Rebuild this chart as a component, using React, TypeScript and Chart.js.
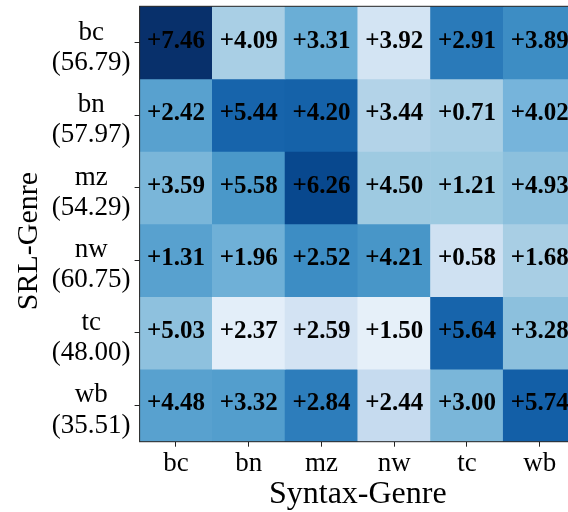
import React, { useEffect, useRef } from "react";
import { Chart, registerables } from "chart.js";

Chart.register(...registerables);

// Column categories (syntax genre) and row categories (SRL genre)
const syntaxGenres = ["bc", "bn", "mz", "nw", "tc", "wb"];
const srlGenres = ["bc", "bn", "mz", "nw", "tc", "wb"];
// Baseline score shown under each SRL genre label
const srlBaseline = [56.79, 57.97, 54.29, 60.75, 48.0, 35.51];

// Gain per (SRL genre row, syntax genre column)
const gainBc = [7.46, 4.09, 3.31, 3.92, 2.91, 3.89];
const gainBn = [2.42, 5.44, 4.2, 3.44, 0.71, 4.02];
const gainMz = [3.59, 5.58, 6.26, 4.5, 1.21, 4.93];
const gainNw = [1.31, 1.96, 2.52, 4.21, 0.58, 1.68];
const gainTc = [5.03, 2.37, 2.59, 1.5, 5.64, 3.28];
const gainWb = [4.48, 3.32, 2.84, 2.44, 3.0, 5.74];
const gains = [gainBc, gainBn, gainMz, gainNw, gainTc, gainWb];

// Cell shading (Blues palette)
const cellColors = [
  ["#08306b", "#a9cfe5", "#6aaed6", "#d3e4f3", "#2a7ab9", "#3d8dc4"],
  ["#58a1cf", "#1764ab", "#1562a9", "#b3d3e8", "#a9cfe5", "#76b4db"],
  ["#7ab6d9", "#4a98c9", "#08488e", "#9ecae1", "#9dcae1", "#8cc0dd"],
  ["#58a1cf", "#6fb0d7", "#3d8dc4", "#4896c8", "#cfe1f2", "#a8cee4"],
  ["#8ec1de", "#e3eef9", "#d3e3f3", "#e6f0f9", "#1764ab", "#8cc0dd"],
  ["#58a1cf", "#539ecd", "#2d7dbb", "#c6dbef", "#7ab6d9", "#135fa7"],
];

const SERIF = "'Liberation Serif', 'Times New Roman', serif";

const cellLabels = {
  id: "cellLabels",
  afterDatasetsDraw(chart: any) {
    const { ctx, scales } = chart;
    const xs = scales.x;
    const ys = scales.y;
    ctx.save();
    ctx.fillStyle = "#000";
    ctx.font = `bold 25px ${SERIF}`;
    ctx.textAlign = "center";
    ctx.textBaseline = "middle";
    gains.forEach((row, r) => {
      row.forEach((v, c) => {
        const x = xs.getPixelForValue(c);
        const y = ys.getPixelForValue(r + 0.5);
        ctx.fillText(`+${v.toFixed(2)}`, x, y - 1.5);
      });
    });
    ctx.restore();
  },
};

const frameAndTitle = {
  id: "frameAndTitle",
  afterDraw(chart: any) {
    const { ctx, chartArea } = chart;
    ctx.save();
    ctx.strokeStyle = "#222";
    ctx.lineWidth = 1;
    ctx.strokeRect(
      chartArea.left,
      chartArea.top,
      chartArea.right - chartArea.left,
      chartArea.bottom - chartArea.top
    );
    // vertical axis title
    ctx.translate(29, 241);
    ctx.rotate(-Math.PI / 2);
    ctx.fillStyle = "#000";
    ctx.font = `30px ${SERIF}`;
    ctx.textAlign = "center";
    ctx.textBaseline = "middle";
    ctx.fillText("SRL-Genre", 0, 0);
    ctx.restore();
  },
};

export default function App() {
  const ref = useRef<HTMLCanvasElement | null>(null);

  useEffect(() => {
    if (!ref.current) return;
    const datasets = srlGenres.map((g, r) => ({
      label: g,
      data: syntaxGenres.map(() => [r, r + 1]),
      backgroundColor: cellColors[r],
      borderWidth: 0,
      barPercentage: 1,
      categoryPercentage: 1,
      grouped: false,
    }));

    const chart = new Chart(ref.current, {
      type: "bar",
      data: { labels: syntaxGenres, datasets: datasets as any },
      options: {
        animation: false,
        responsive: false,
        layout: { padding: { left: 0, top: 6.3, right: 6, bottom: 0 } },
        plugins: { legend: { display: false }, tooltip: { enabled: false } },
        scales: {
          x: {
            type: "category",
            grid: {
              display: true,
              drawOnChartArea: false,
              drawTicks: true,
              tickLength: 5,
              offset: false,
              color: "#222",
            },
            border: { display: false },
            ticks: {
              color: "#000",
              padding: 1,
              font: { family: SERIF, size: 27 },
              maxRotation: 0,
            },
            title: {
              display: true,
              text: "Syntax-Genre",
              color: "#000",
              font: { family: SERIF, size: 32, lineHeight: 1 },
              padding: { top: 0, bottom: 1 },
            },
            afterFit: (s: any) => {
              s.height = 70.3;
              s.paddingLeft = 0;
              s.paddingRight = 0;
            },
          },
          y: {
            type: "linear",
            min: 0,
            max: 6,
            reverse: true,
            grid: {
              display: true,
              drawOnChartArea: false,
              drawTicks: true,
              tickLength: 5,
              color: "#222",
            },
            border: { display: false },
            afterBuildTicks: (s: any) => {
              s.ticks = srlGenres.map((_, i) => ({ value: i + 0.5 }));
            },
            ticks: {
              color: "#000",
              padding: 4,
              crossAlign: "center",
              labelOffset: 5,
              font: { family: SERIF, size: 27, lineHeight: 1.12 },
              callback: (_v: any, i: number) => [
                srlGenres[i],
                `(${srlBaseline[i].toFixed(2)})`,
              ],
            },
            afterFit: (s: any) => {
              s.width = 139.6;
              s.paddingTop = 0;
              s.paddingBottom = 0;
            },
          },
        },
      },
      plugins: [cellLabels, frameAndTitle],
    });
    return () => chart.destroy();
  }, []);

  return (
    <div
      style={{
        position: "fixed",
        left: 0,
        top: 0,
        width: 568,
        height: 512,
        overflow: "hidden",
        background: "#fff",
      }}
    >
      <canvas
        ref={ref}
        width={582}
        height={512}
        style={{ width: 582, height: 512, display: "block" }}
      />
    </div>
  );
}
